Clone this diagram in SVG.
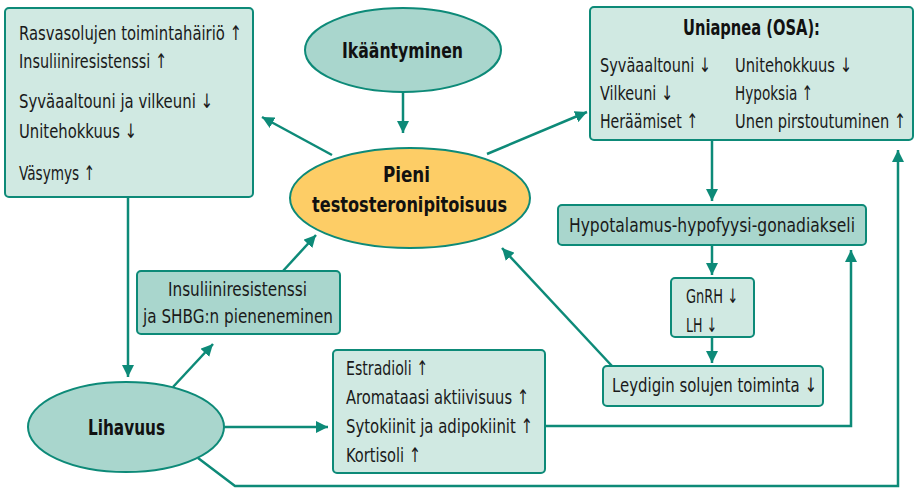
<svg xmlns="http://www.w3.org/2000/svg" width="916" height="488" viewBox="0 0 916 488">
<defs>
<marker id="ah" viewBox="0 0 10 10" refX="10" refY="5" markerWidth="12" markerHeight="12" markerUnits="userSpaceOnUse" orient="auto">
<path d="M0,0 L10,5 L0,10 z" fill="#0d8a78"/>
</marker>
<style>
.box{fill:#d0e9e2;stroke:#0d8a78;stroke-width:2}
.boxd{fill:#a9d6cd;stroke:#0d8a78;stroke-width:2}
.ell{fill:#a9d6cd;stroke:#0d8a78;stroke-width:2}
.elly{fill:#fdcd66;stroke:#0d8a78;stroke-width:2}
.t{font-family:"DejaVu Sans Condensed","Liberation Sans",sans-serif;font-size:20px;fill:#1a1a1a}
.b{font-family:"DejaVu Sans Condensed","Liberation Sans",sans-serif;font-size:21px;font-weight:bold;fill:#111}
.ln{fill:none;stroke:#0d8a78;stroke-width:2.5}
</style>
</defs>
<rect width="916" height="488" fill="#ffffff"/>

<g id="connectors">
<line class="ln" x1="403" y1="92" x2="403" y2="133" marker-end="url(#ah)"/>
<line class="ln" x1="332" y1="155" x2="262" y2="117" marker-end="url(#ah)"/>
<line class="ln" x1="487" y1="154" x2="587" y2="112" marker-end="url(#ah)"/>
<line class="ln" x1="712" y1="140" x2="712" y2="201" marker-end="url(#ah)"/>
<line class="ln" x1="712" y1="245" x2="712" y2="275" marker-end="url(#ah)"/>
<line class="ln" x1="712" y1="337" x2="712" y2="363" marker-end="url(#ah)"/>
<line class="ln" x1="612" y1="366" x2="502" y2="248" marker-end="url(#ah)"/>
<line class="ln" x1="128" y1="197" x2="128" y2="377" marker-end="url(#ah)"/>
<line class="ln" x1="283" y1="271" x2="316" y2="235" marker-end="url(#ah)"/>
<line class="ln" x1="173" y1="387" x2="213" y2="344" marker-end="url(#ah)"/>
<line class="ln" x1="224" y1="427" x2="328" y2="427" marker-end="url(#ah)"/>
<polyline class="ln" points="545,426 851,426 851,250" marker-end="url(#ah)"/>
<polyline class="ln" points="198,458 235,486 898,486 898,150" marker-end="url(#ah)"/>
</g>

<g id="vaikutukset">
<rect class="box" x="5" y="8" width="248" height="189" rx="4"/>
<text class="t" x="19" y="40" textLength="223" lengthAdjust="spacingAndGlyphs">Rasvasolujen toimintahäiriö ↑</text>
<text class="t" x="19" y="68" textLength="148" lengthAdjust="spacingAndGlyphs">Insuliiniresistenssi ↑</text>
<text class="t" x="19" y="108" textLength="194" lengthAdjust="spacingAndGlyphs">Syväaaltouni ja vilkeuni ↓</text>
<text class="t" x="19" y="138" textLength="118" lengthAdjust="spacingAndGlyphs">Unitehokkuus ↓</text>
<text class="t" x="19" y="180" textLength="76" lengthAdjust="spacingAndGlyphs">Väsymys ↑</text>
</g>

<g id="ikaantyminen">
<ellipse class="ell" cx="403" cy="50" rx="98" ry="42"/>
<text class="b" x="342" y="58" textLength="121" lengthAdjust="spacingAndGlyphs">Ikääntyminen</text>
</g>

<g id="testosteroni">
<ellipse class="elly" cx="410" cy="198" rx="120" ry="50"/>
<text class="b" x="383" y="182" textLength="47" lengthAdjust="spacingAndGlyphs">Pieni</text>
<text class="b" x="312" y="212" textLength="195" lengthAdjust="spacingAndGlyphs">testosteronipitoisuus</text>
</g>

<g id="uniapnea">
<rect class="box" x="590" y="7" width="323" height="133" rx="4"/>
<text class="b" x="683" y="35" textLength="137" lengthAdjust="spacingAndGlyphs">Uniapnea (OSA):</text>
<text class="t" x="600" y="72" textLength="111" lengthAdjust="spacingAndGlyphs">Syväaaltouni ↓</text>
<text class="t" x="600" y="100" textLength="73" lengthAdjust="spacingAndGlyphs">Vilkeuni ↓</text>
<text class="t" x="600" y="128" textLength="98" lengthAdjust="spacingAndGlyphs">Heräämiset ↑</text>
<text class="t" x="735" y="72" textLength="117" lengthAdjust="spacingAndGlyphs">Unitehokkuus ↓</text>
<text class="t" x="735" y="100" textLength="78" lengthAdjust="spacingAndGlyphs">Hypoksia ↑</text>
<text class="t" x="735" y="128" textLength="171" lengthAdjust="spacingAndGlyphs">Unen pirstoutuminen ↑</text>
</g>

<g id="hpg">
<rect class="boxd" x="558" y="205" width="308" height="40" rx="4"/>
<text class="t" x="569" y="232" textLength="286" lengthAdjust="spacingAndGlyphs">Hypotalamus-hypofyysi-gonadiakseli</text>
</g>

<g id="gnrh">
<rect class="box" x="671" y="278" width="83" height="59" rx="4"/>
<text class="t" x="686" y="303" textLength="52" lengthAdjust="spacingAndGlyphs">GnRH ↓</text>
<text class="t" x="686" y="332" textLength="31" lengthAdjust="spacingAndGlyphs">LH ↓</text>
</g>

<g id="leydig">
<rect class="box" x="603" y="366" width="220" height="40" rx="4"/>
<text class="t" x="612" y="392" textLength="205" lengthAdjust="spacingAndGlyphs">Leydigin solujen toiminta ↓</text>
</g>

<g id="insuliini">
<rect class="boxd" x="137" y="271" width="203" height="63" rx="4"/>
<text class="t" x="168" y="296" textLength="139" lengthAdjust="spacingAndGlyphs">Insuliiniresistenssi</text>
<text class="t" x="143" y="323" textLength="190" lengthAdjust="spacingAndGlyphs">ja SHBG:n pieneneminen</text>
</g>

<g id="lihavuus">
<ellipse class="ell" cx="126" cy="427" rx="98" ry="45"/>
<text class="b" x="88" y="435" textLength="77" lengthAdjust="spacingAndGlyphs">Lihavuus</text>
</g>

<g id="estradioli">
<rect class="box" x="333" y="350" width="212" height="123" rx="4"/>
<text class="t" x="346" y="375" textLength="82" lengthAdjust="spacingAndGlyphs">Estradioli ↑</text>
<text class="t" x="346" y="404" textLength="183" lengthAdjust="spacingAndGlyphs">Aromataasi aktiivisuus ↑</text>
<text class="t" x="346" y="433" textLength="187" lengthAdjust="spacingAndGlyphs">Sytokiinit ja adipokiinit ↑</text>
<text class="t" x="346" y="462" textLength="75" lengthAdjust="spacingAndGlyphs">Kortisoli ↑</text>
</g>
</svg>
